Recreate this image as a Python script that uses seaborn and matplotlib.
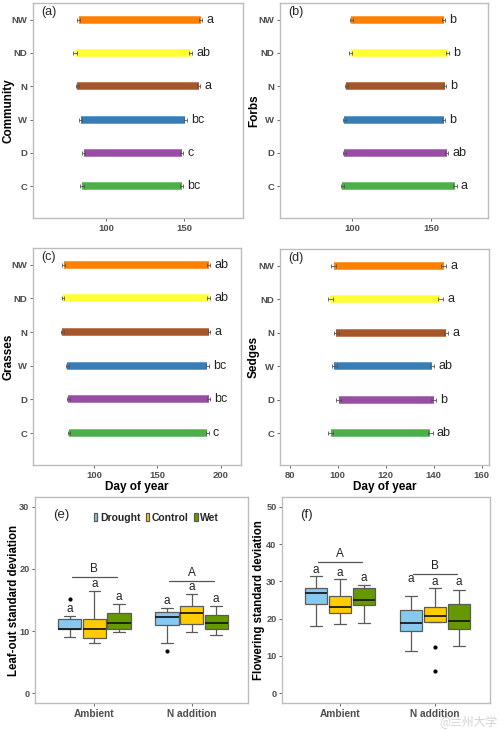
import numpy as np
import pandas as pd
import matplotlib
matplotlib.use("Agg")
import matplotlib.pyplot as plt
import seaborn as sns

# treatments, bottom to top
treatments = ["C", "D", "W", "N", "ND", "NW"]
trt_colors = ["#4DAF4A", "#984EA3", "#377EB8", "#A65628", "#FFFF33", "#FF7F00"]

community_start = [84.5, 85.7, 83.6, 81.5, 80.0, 82.3]
community_end = [148.7, 148.7, 151.0, 159.4, 154.3, 160.9]
community_letters = ["bc", "c", "bc", "a", "ab", "a"]

forbs_start = [93.5, 94.9, 94.7, 96.2, 99.0, 99.2]
forbs_end = [165.1, 159.7, 157.8, 158.4, 160.5, 157.8]
forbs_letters = ["a", "ab", "b", "b", "b", "b"]

grasses_start = [80.4, 79.9, 79.1, 75.1, 75.7, 76.2]
grasses_end = [189.4, 190.5, 189.4, 190.7, 190.5, 190.5]
grasses_letters = ["c", "bc", "bc", "a", "ab", "ab"]

sedges_start = [97.1, 100.4, 98.6, 99.4, 96.9, 98.3]
sedges_end = [138.6, 140.0, 139.3, 145.1, 142.8, 144.2]
sedges_letters = ["ab", "b", "ab", "a", "a", "a"]

day_se = 1.0

# box plot data (per nitrogen x water group)
nitrogen_levels = ["Ambient", "N addition"]
water_levels = ["Drought", "Control", "Wet"]
water_colors = ["#87C8F0", "#FFCC00", "#669900"]

leaf_amb_drought = [9.1, 9.8, 10.3, 10.35, 10.4, 11.2, 11.9, 12.4, 15.1]
leaf_amb_control = [8.1, 8.5, 8.8, 9.6, 10.4, 11.2, 11.9, 14.0, 16.4]
leaf_amb_wet = [9.9, 10.2, 10.4, 10.9, 11.3, 12.1, 12.9, 13.6, 14.4]
leaf_n_drought = [6.8, 8.0, 11.0, 11.7, 12.3, 12.7, 13.1, 13.4, 13.7]
leaf_n_control = [9.9, 10.6, 11.2, 12.1, 12.9, 13.5, 14.0, 15.0, 15.9]
leaf_n_wet = [9.3, 9.9, 10.4, 10.8, 11.3, 12.0, 12.6, 13.3, 14.1]
leaf_letter_y = [13.6, 17.6, 15.5, 14.8, 17.1, 15.2]
leaf_group_letters = ["B", "A"]
leaf_group_y = [18.7, 18.1]

flow_amb_drought = [18.1, 21.0, 23.8, 25.3, 26.8, 27.5, 28.1, 29.7, 31.3]
flow_amb_control = [18.5, 20.0, 21.4, 22.2, 23.0, 24.6, 26.2, 28.4, 30.6]
flow_amb_wet = [18.9, 21.3, 23.7, 24.4, 25.0, 26.7, 28.3, 28.7, 29.0]
flow_n_drought = [11.4, 14.1, 16.8, 17.9, 18.9, 20.6, 22.2, 24.2, 26.1]
flow_n_control = [6.1, 12.3, 19.0, 19.8, 20.6, 21.9, 23.1, 25.6, 28.1]
flow_n_wet = [12.7, 14.9, 17.1, 18.3, 19.4, 21.6, 23.8, 25.8, 27.7]
flow_letter_y = [33.0, 32.3, 30.8, 30.6, 29.7, 29.7]
flow_group_letters = ["A", "B"]
flow_group_y = [35.1, 31.9]

sns.set_theme(style="white")
plt.rcParams["font.family"] = ["Liberation Sans", "DejaVu Sans"]

W, H = 500, 730
fig = plt.figure(figsize=(W / 100, H / 100), dpi=100)


def add_ax(left, right, top, bottom):
    ax = fig.add_axes([left / W, (H - bottom) / H, (right - left) / W, (bottom - top) / H])
    ax._px = (left, right)
    return ax


tick_col = "#4D4D4D"
spine_col = "#BDBDBD"


def style_ax(ax, xsize=6.8, ysize=6.8):
    for s in ax.spines.values():
        s.set_color(spine_col)
        s.set_linewidth(1.0)
    ax.tick_params(axis="both", length=2.5, width=0.6, color=tick_col,
                   labelcolor=tick_col, pad=1.5, bottom=True, left=True)
    ax.tick_params(axis="x", labelsize=xsize)
    ax.tick_params(axis="y", labelsize=ysize)
    for lab in ax.get_xticklabels() + ax.get_yticklabels():
        lab.set_fontweight("bold")


def place_ylabel(ax, text, label_px, size=8.5):
    ax.set_ylabel(text, fontsize=size, fontweight="bold", color="black")
    left, right = ax._px
    ax.yaxis.set_label_coords((label_px - left) / (right - left), 0.5)


def phen_panel(ax, start, end, letters, ylab, label_px, tag, xlim, xticks, xlabel=None):
    ypos = np.arange(len(treatments))
    ax.hlines(ypos, start, end, colors=trt_colors, linewidth=5.4, zorder=2)
    ax.errorbar(start, ypos, xerr=day_se, fmt="none", ecolor="#555555",
                elinewidth=0.6, capsize=1.2, capthick=0.6, zorder=3)
    ax.errorbar(end, ypos, xerr=day_se, fmt="none", ecolor="#555555",
                elinewidth=0.6, capsize=1.2, capthick=0.6, zorder=3)
    for y, x, t in zip(ypos, end, letters):
        ax.annotate(t, (x + day_se, y), xytext=(3, 0), textcoords="offset points",
                    ha="left", va="center", fontsize=9, color="#222222")
    ax.set_yticks(ypos)
    ax.set_yticklabels(treatments)
    ax.set_ylim(-0.95, 5.5)
    ax.set_xlim(*xlim)
    ax.set_xticks(xticks)
    place_ylabel(ax, ylab, label_px)
    if xlabel:
        ax.set_xlabel(xlabel, fontsize=8.5, fontweight="bold", color="black", labelpad=1)
    ax.text(0.04, 0.985, tag, transform=ax.transAxes, ha="left", va="top", fontsize=9)
    style_ax(ax)


ax_a = add_ax(33, 243, 3, 218)
phen_panel(ax_a, community_start, community_end, community_letters, "Community", 15, "(a)",
           (53, 188), [100, 150])
ax_b = add_ax(280, 488, 3, 218)
phen_panel(ax_b, forbs_start, forbs_end, forbs_letters, "Forbs", 260, "(b)",
           (54, 186), [100, 150])
ax_c = add_ax(33, 241, 248, 465)
phen_panel(ax_c, grasses_start, grasses_end, grasses_letters, "Grasses", 15, "(c)",
           (52, 216), [100, 150, 200], "Day of year")
ax_d = add_ax(280, 489, 249, 465)
phen_panel(ax_d, sedges_start, sedges_end, sedges_letters, "Sedges", 260, "(d)",
           (76, 163), [80, 100, 120, 140, 160], "Day of year")


def box_frame(groups):
    rows = []
    for (n, w), vals in groups.items():
        for v in vals:
            rows.append({"nitrogen": n, "water": w, "sd": v})
    return pd.DataFrame(rows)


leaf_df = box_frame({
    ("Ambient", "Drought"): leaf_amb_drought, ("Ambient", "Control"): leaf_amb_control,
    ("Ambient", "Wet"): leaf_amb_wet, ("N addition", "Drought"): leaf_n_drought,
    ("N addition", "Control"): leaf_n_control, ("N addition", "Wet"): leaf_n_wet,
})
flow_df = box_frame({
    ("Ambient", "Drought"): flow_amb_drought, ("Ambient", "Control"): flow_amb_control,
    ("Ambient", "Wet"): flow_amb_wet, ("N addition", "Drought"): flow_n_drought,
    ("N addition", "Control"): flow_n_control, ("N addition", "Wet"): flow_n_wet,
})

box_width = 0.76


def box_panel(ax, df, ylab, label_px, tag, ylim, yticks, letter_y, group_letters, group_y,
              legend):
    sns.boxplot(data=df, x="nitrogen", y="sd", hue="water", order=nitrogen_levels,
                hue_order=water_levels, palette=water_colors, width=box_width, gap=0.06,
                linewidth=0.9, linecolor="#5A5A5A", ax=ax, legend=legend, saturation=1,
                whis=1.5, medianprops={"color": "#1A1A1A", "linewidth": 1.3},
                flierprops={"marker": "o", "markersize": 2, "markerfacecolor": "black",
                            "markeredgecolor": "black"})
    step = box_width / len(water_levels)
    k = 0
    for i in range(len(nitrogen_levels)):
        for j in range(len(water_levels)):
            ax.text(i + (j - 1) * step, letter_y[k], "a", ha="center", va="center",
                    fontsize=8.5, color="#222222")
            k += 1
        ax.plot([i - 0.23, i + 0.23], [group_y[i], group_y[i]], color="#555555", lw=0.9)
        ax.annotate(group_letters[i], (i, group_y[i]), xytext=(0, 1.5),
                    textcoords="offset points", ha="center", va="bottom",
                    fontsize=8.5, color="#222222")
    ax.set_xlim(-0.61, 1.58)
    ax.set_ylim(*ylim)
    ax.set_yticks(yticks)
    ax.set_xlabel("")
    place_ylabel(ax, ylab, label_px, size=8.3)
    ax.text(0.085, 0.94, tag, transform=ax.transAxes, ha="left", va="top", fontsize=9.5)
    style_ax(ax, xsize=7.3, ysize=6.6)
    if legend:
        handles, labels = ax.get_legend_handles_labels()
        ax.legend(handles, labels, loc="center", bbox_to_anchor=(0.57, 0.9), ncol=3,
                  frameon=False, handlelength=0.35, handleheight=0.9, handletextpad=0.25,
                  columnspacing=0.5, prop={"weight": "bold", "size": 7.5})


ax_e = add_ax(35, 248, 497, 703)
box_panel(ax_e, leaf_df, "Leaf-out standard deviation", 20, "(e)", (-1.6, 31.6),
          [0, 10, 20, 30], leaf_letter_y, leaf_group_letters, leaf_group_y, True)
ax_f = add_ax(282, 490, 497, 703)
box_panel(ax_f, flow_df, "Flowering standard deviation", 265, "(f)", (-2.6, 52.6),
          [0, 10, 20, 30, 40, 50], flow_letter_y, flow_group_letters, flow_group_y, False)

# watermark, kept just below the tick labels
fig.text(0.995, 0.002, "@兰州大学", ha="right", va="bottom", fontsize=8.5, color="#C8C8C8",
         alpha=0.8, family=["Noto Sans CJK SC", "DejaVu Sans"])

fig.savefig("out.png", dpi=100)
